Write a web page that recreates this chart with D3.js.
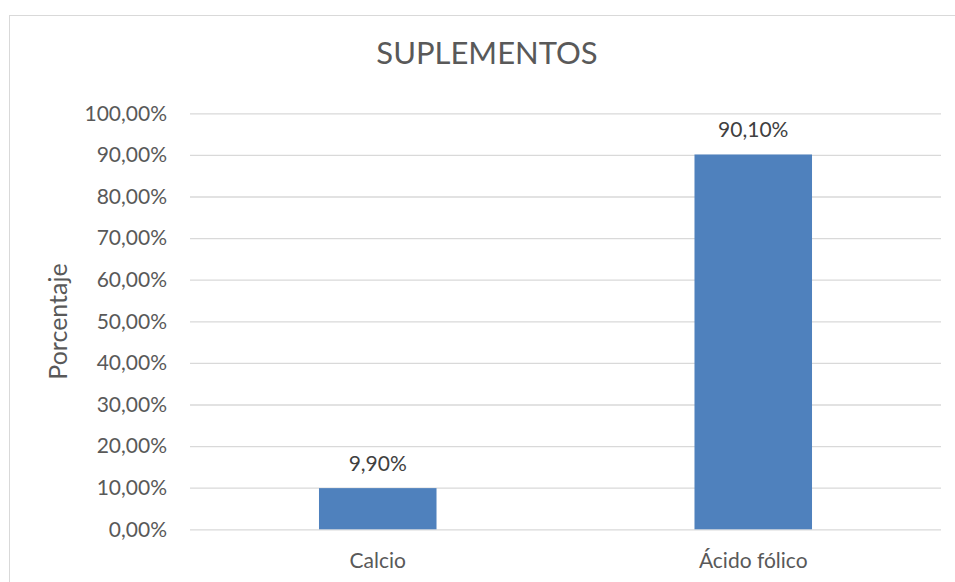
<!DOCTYPE html>
<html><head><meta charset="utf-8">
<script src="https://cdn.jsdelivr.net/npm/d3@7"></script>
<style>html,body{margin:0;padding:0;background:#fff;}svg{display:block;}</style>
</head><body>
<script>
const categories = ["Calcio", "Ácido fólico"];
const values = [9.9, 90.1];
const valueLabels = ["9,90%", "90,10%"];
const yTicks = [0,10,20,30,40,50,60,70,80,90,100];
const tickLabels = ["0,00%","10,00%","20,00%","30,00%","40,00%","50,00%","60,00%","70,00%","80,00%","90,00%","100,00%"];
const title = "SUPLEMENTOS";
const yTitle = "Porcentaje";

const W = 955, H = 582;
const m = {left:190, right:14, top:113.3, bottom:52.7};
const font = "Lato, 'Open Sans', sans-serif";
const svg = d3.select("body").append("svg").attr("width", W).attr("height", H);
svg.append("rect").attr("width", W).attr("height", H).attr("fill", "#fff");
svg.append("rect").attr("x", 9.5).attr("y", 15.5).attr("width", W).attr("height", H)
  .attr("fill", "none").attr("stroke", "#d9d9d9").attr("stroke-width", 1);

const x = d3.scaleBand().domain(categories).range([m.left, W - m.right]).paddingInner(0).paddingOuter(0);
const y = d3.scaleLinear().domain([0, 100]).range([H - m.bottom, m.top]);

const yAxis = d3.axisLeft(y).tickValues(yTicks).tickFormat((d,i) => tickLabels[i]).tickSize(-(W - m.right - m.left)).tickPadding(23);
const gy = svg.append("g").attr("transform", `translate(${m.left},0)`).call(yAxis);
gy.select(".domain").remove();
gy.selectAll(".tick line").attr("stroke", "#d9d9d9").attr("stroke-width", 1.3);
gy.selectAll(".tick text").attr("fill", "#595959").attr("font-family", font).attr("font-size", 21);

const bw = x.bandwidth() * 0.313;
svg.selectAll("rect.bar").data(values).enter().append("rect").attr("class","bar")
  .attr("x", (d,i) => x(categories[i]) + x.bandwidth()/2 - bw/2)
  .attr("y", d => y(d)).attr("width", bw).attr("height", d => y(0) - y(d))
  .attr("fill", "#4f81bd");

svg.selectAll("text.vl").data(values).enter().append("text").attr("class","vl")
  .attr("x", (d,i) => x(categories[i]) + x.bandwidth()/2)
  .attr("y", d => y(d) - 17.5).attr("text-anchor","middle")
  .attr("fill", "#404040").attr("font-family", font).attr("font-size", 21)
  .text((d,i) => valueLabels[i]);

const xAxis = d3.axisBottom(x).tickSize(0).tickPadding(23);
const gx = svg.append("g").attr("transform", `translate(0,${H - m.bottom})`).call(xAxis);
gx.select(".domain").remove();
gx.selectAll(".tick text").attr("fill", "#595959").attr("font-family", font).attr("font-size", 21)
  .attr("dy", null).attr("y", 39);

svg.append("text").attr("x", 487).attr("y", 64).attr("text-anchor","middle")
  .attr("fill", "#595959").attr("font-family", font).attr("font-size", 31).text(title);

svg.append("text").attr("transform", "translate(67,321.5) rotate(-90)").attr("text-anchor","middle")
  .attr("fill", "#595959").attr("font-family", font).attr("font-size", 25).text(yTitle);
</script>
</body></html>
